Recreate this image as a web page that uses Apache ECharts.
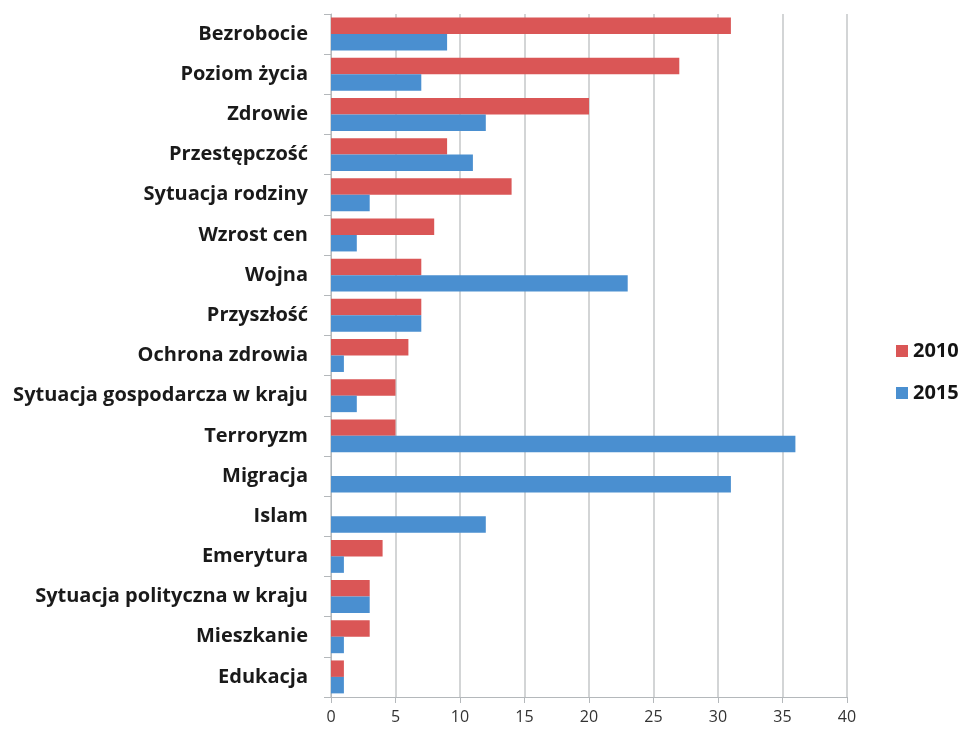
<!DOCTYPE html>
<html>
<head>
<meta charset="utf-8">
<script src="https://cdn.jsdelivr.net/npm/echarts@6/dist/echarts.min.js"></script>
<style>
  html, body { margin: 0; padding: 0; background: #fff; }
  #chart { width: 962px; height: 730px; }
</style>
</head>
<body>
<div id="chart"></div>
<script>
const categories = [
  'Bezrobocie', 'Poziom życia', 'Zdrowie', 'Przestępczość', 'Sytuacja rodziny',
  'Wzrost cen', 'Wojna', 'Przyszłość', 'Ochrona zdrowia',
  'Sytuacja gospodarcza w kraju', 'Terroryzm', 'Migracja', 'Islam',
  'Emerytura', 'Sytuacja polityczna w kraju', 'Mieszkanie', 'Edukacja'
]
const values2010 = [31, 27, 20, 9, 14, 8, 7, 7, 6, 5, 5, 0, 0, 4, 3, 3, 1]
const values2015 = [9, 7, 12, 11, 3, 2, 23, 7, 1, 2, 36, 31, 12, 1, 3, 1, 1]
const seriesNames = ['2010', '2015']

const chart = echarts.init(document.getElementById('chart'))

const option = {
  animation: false,
  grid: { left: 331, right: 115, top: 14, bottom: 33 },
  legend: {
    orient: 'vertical',
    left: 891,
    top: 336,
    itemWidth: 12,
    itemHeight: 12,
    itemGap: 22,
    icon: 'rect',
    textStyle: { fontFamily: 'Open Sans', fontWeight: 'bold', fontSize: 20, color: '#141414' },
    data: seriesNames,
  },
  xAxis: {
    type: 'value',
    min: 0,
    max: 40,
    interval: 5,
    axisLine: { show: true, lineStyle: { color: '#b4b8bb' } },
    axisTick: { show: true, length: 6, lineStyle: { color: '#b4b8bb' } },
    axisLabel: { margin: 12, fontFamily: 'Open Sans', fontSize: 16, color: '#333' },
    splitLine: { show: true, lineStyle: { color: '#c4c7c9', width: 1.5 } },
  },
  yAxis: {
    type: 'category',
    data: categories,
    inverse: true,
    axisLine: { show: true, lineStyle: { color: '#b4b8bb' } },
    axisTick: { show: true, length: 7, lineStyle: { color: '#b4b8bb' } },
    axisLabel: { margin: 23, fontFamily: 'Open Sans', fontWeight: 'bold', fontSize: 20, color: '#1a1a1a' },
  },
  series: [
    {
      name: seriesNames[0],
      type: 'bar',
      data: values2010,
      barGap: '0%',
      barCategoryGap: '18%',
      itemStyle: { color: '#da5656' },
    },
    {
      name: seriesNames[1],
      type: 'bar',
      data: values2015,
      barGap: '0%',
      barCategoryGap: '18%',
      itemStyle: { color: '#4a8fd0' },
    },
  ],
}

chart.setOption(option)
</script>
</body>
</html>
